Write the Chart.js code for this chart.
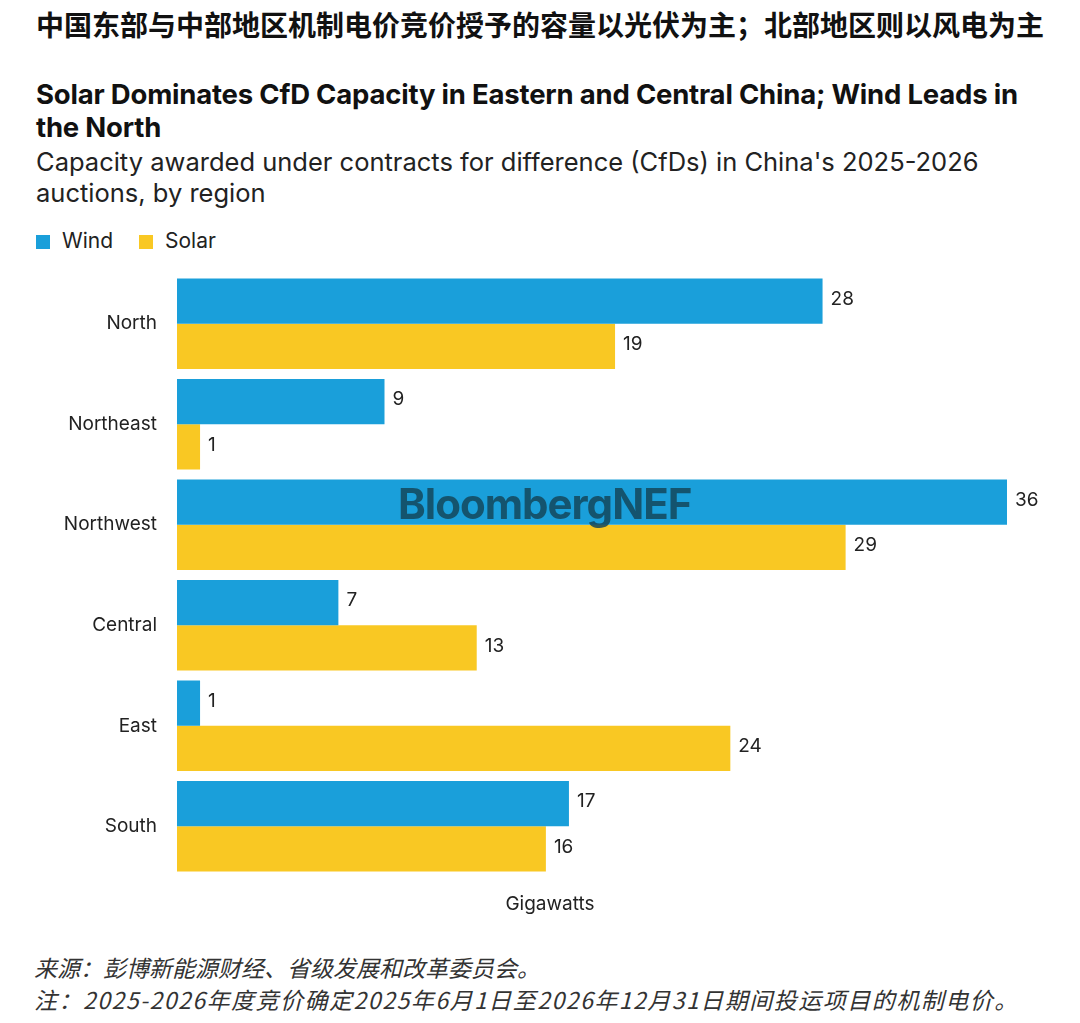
<!DOCTYPE html>
<html><head><meta charset="utf-8">
<script src="https://cdn.jsdelivr.net/npm/chart.js@4/dist/chart.umd.min.js"></script>
<style>
body{margin:0;background:#fff;font-family:Inter,"Noto Sans CJK SC",sans-serif;color:#111;}
#wrap{position:relative;width:1080px;height:1023px;overflow:hidden;}
.t{position:absolute;left:36px;white-space:nowrap;}
#cn{top:4px;font-size:28px;font-weight:700;font-family:"Noto Sans CJK SC";}
#title{top:78px;font-size:27.5px;font-weight:700;line-height:33px;letter-spacing:-0.2px;}
#sub{top:146px;font-size:25.5px;line-height:31px;color:#222;}
#legend{top:228px;font-size:21px;color:#222;}
.sw{display:inline-block;width:14px;height:14px;margin-right:12px;vertical-align:-1px;}
#gw{position:absolute;top:892px;left:0;width:1100px;text-align:center;font-size:19px;color:#222;}
#wm{position:absolute;top:478px;left:398px;font-size:42px;font-weight:700;color:rgba(20,70,90,0.85);letter-spacing:-1px;}
.f{position:absolute;left:34px;font-size:23px;font-style:italic;color:#333;font-family:"Noto Sans CJK SC";white-space:nowrap;}
#box{position:absolute;left:0;top:250px;width:1080px;height:650px;}
</style></head><body>
<div id="wrap">
<div class="t" id="cn">中国东部与中部地区机制电价竞价授予的容量以光伏为主；北部地区则以风电为主</div>
<div class="t" id="title">Solar Dominates CfD Capacity in Eastern and Central China; Wind Leads in<br>the North</div>
<div class="t" id="sub">Capacity awarded under contracts for difference (CfDs) in China's 2025-2026<br>auctions, by region</div>
<div class="t" id="legend"><span class="sw" style="background:#1A9FDA"></span>Wind<span style="display:inline-block;width:26px"></span><span class="sw" style="background:#F9C823"></span>Solar</div>
<div id="box"><canvas id="c"></canvas></div>
<div id="wm">BloombergNEF</div>
<div id="gw">Gigawatts</div>
<div class="f" style="top:950px">来源：彭博新能源财经、省级发展和改革委员会。</div>
<div class="f" style="top:982px;letter-spacing:1.5px">注：2025-2026年度竞价确定2025年6月1日至2026年12月31日期间投运项目的机制电价。</div>
</div>
<script>
const regions = ["North", "Northeast", "Northwest", "Central", "East", "South"];
const windValues = [28, 9, 36, 7, 1, 17];
const solarValues = [19, 1, 29, 13, 24, 16];

const valueLabels = {
  id: "valueLabels",
  afterDatasetsDraw(chart) {
    const ctx = chart.ctx;
    ctx.save();
    ctx.font = "19px Inter";
    ctx.fillStyle = "#222";
    ctx.textBaseline = "middle";
    chart.data.datasets.forEach((ds, i) => {
      chart.getDatasetMeta(i).data.forEach((bar, j) => {
        ctx.fillText(String(ds.data[j]), bar.x + 8, bar.y - 2);
      });
    });
    ctx.restore();
  }
};

new Chart(document.getElementById("c"), {
  type: "bar",
  data: {
    labels: regions,
    datasets: [
      { label: "Wind", data: windValues, backgroundColor: "#1A9FDA" },
      { label: "Solar", data: solarValues, backgroundColor: "#F9C823" }
    ]
  },
  options: {
    indexAxis: "y",
    responsive: true,
    maintainAspectRatio: false,
    animation: false,
    categoryPercentage: 0.9,
    barPercentage: 1.0,
    layout: { padding: { top: 10, right: 73, bottom: 0, left: 0 } },
    plugins: { legend: { display: false }, tooltip: { enabled: false } },
    scales: {
      x: { min: 0, max: 36, display: false },
      y: {
        grid: { display: false },
        border: { display: false },
        afterFit(s) { s.width = 177; },
        ticks: { font: { size: 19, family: "Inter" }, color: "#222", padding: 12 }
      }
    }
  },
  plugins: [valueLabels]
});
</script>
</body></html>
